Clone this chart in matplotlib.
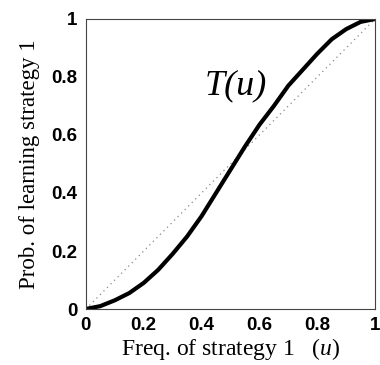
import matplotlib
matplotlib.use("Agg")
import matplotlib.pyplot as plt

plt.rcParams["mathtext.fontset"] = "custom"
plt.rcParams["mathtext.it"] = "Liberation Serif:italic"
plt.rcParams["mathtext.rm"] = "Liberation Serif"

u_vals = [0, 0.05, 0.1, 0.15, 0.2, 0.25, 0.3, 0.35, 0.4, 0.45, 0.5,
          0.55, 0.6, 0.65, 0.7, 0.75, 0.8, 0.85, 0.9, 0.95, 1.0]
T_vals = [0, 0.01, 0.03, 0.055, 0.09, 0.135, 0.19, 0.25, 0.32, 0.40, 0.48,
          0.56, 0.635, 0.70, 0.77, 0.825, 0.88, 0.93, 0.965, 0.99, 1.0]
diag = [0, 1]
ticks = [0, 0.2, 0.4, 0.6, 0.8, 1.0]
tick_labels = ["0", "0.2", "0.4", "0.6", "0.8", "1"]

fig = plt.figure(figsize=(3.8, 3.65), dpi=100)
ax = fig.add_axes([0.226, 0.1534, 0.761, 0.7946])

ax.plot(diag, diag, linestyle=(0, (1, 3)), color="#888888", linewidth=0.9)
ax.plot(u_vals, T_vals, color="black", linewidth=3.0, solid_capstyle="round")

ax.set_xlim(0, 1)
ax.set_ylim(0, 1)
ax.set_xticks(ticks)
ax.set_yticks(ticks)
tfont = dict(family="Liberation Sans", weight="bold", size=13.5)
ax.set_xticklabels(tick_labels, fontdict=tfont)
ax.set_yticklabels(tick_labels, fontdict=tfont)
ax.tick_params(length=0, pad=6)

for s in ax.spines.values():
    s.set_linestyle((0, (3, 1)))
    s.set_linewidth(0.8)
    s.set_color("#444444")

ax.set_xlabel("Freq. of strategy 1   ($u$)", family="Liberation Serif", size=17, labelpad=1)
ax.set_ylabel("Prob. of learning strategy 1", family="Liberation Serif", size=16.5, labelpad=8)

ax.text(0.52, 0.77, "T(u)", family="Liberation Serif", style="italic",
        size=26, ha="center", va="center", transform=ax.transAxes)

fig.savefig("out.png", dpi=100)
